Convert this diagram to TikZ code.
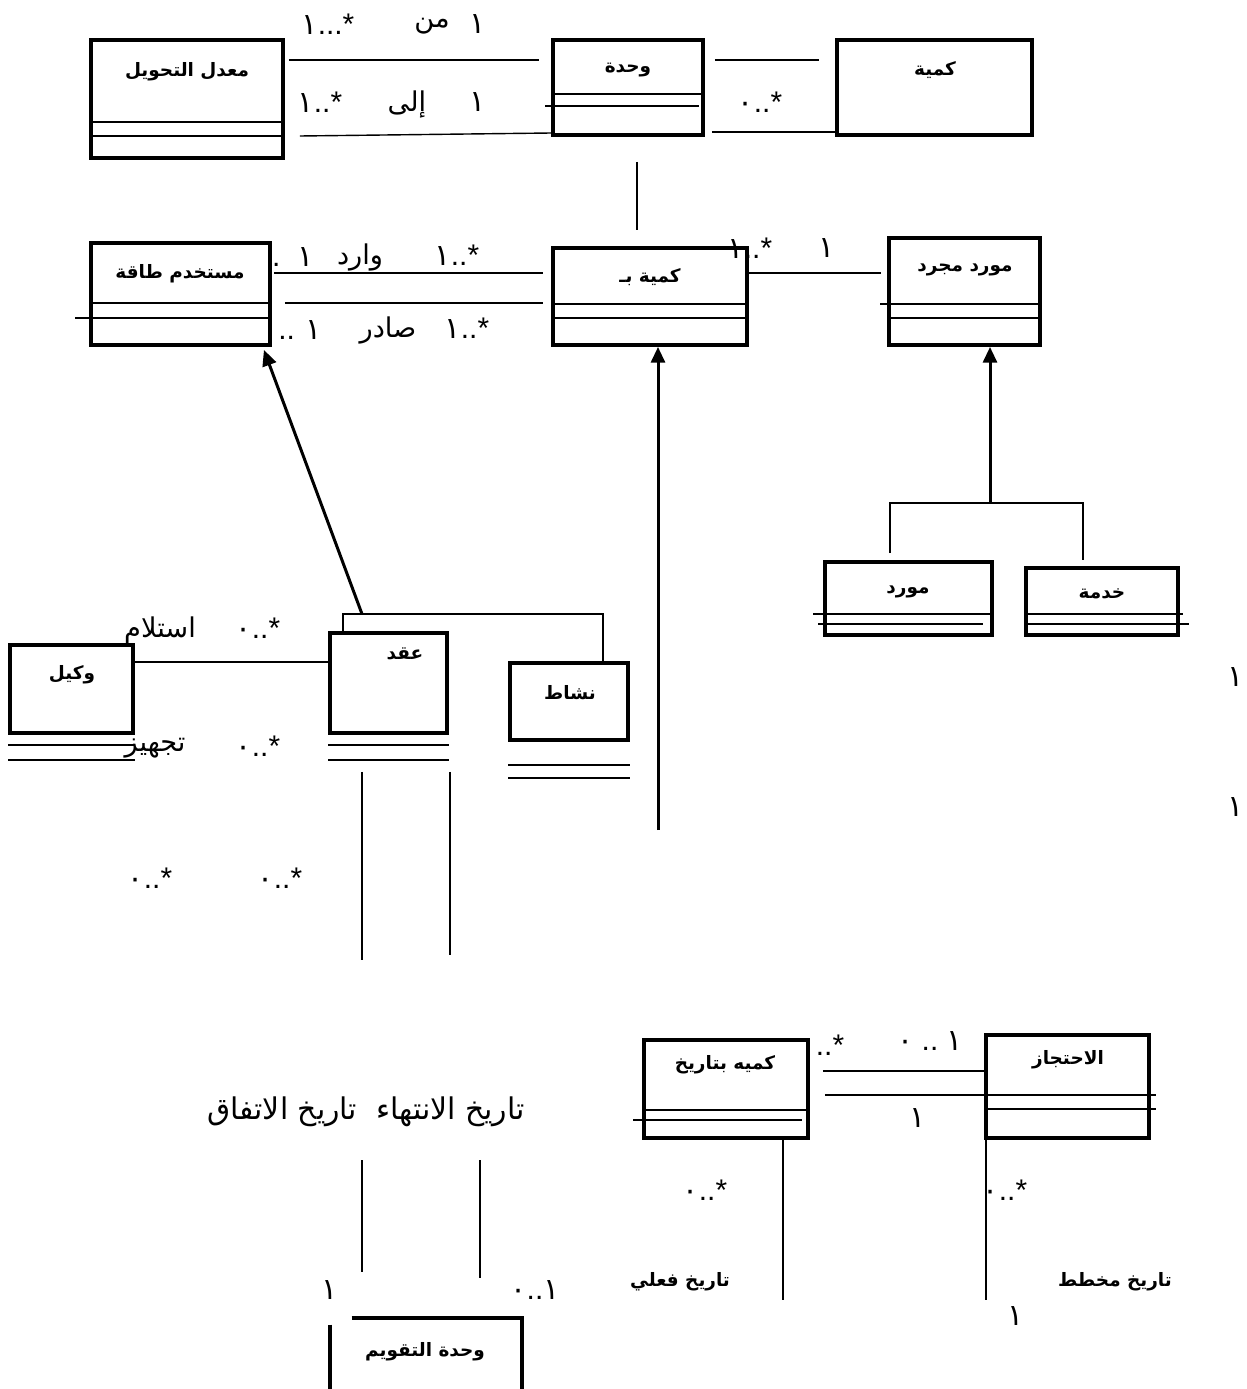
\documentclass[tikz,border=0pt]{standalone}
\usepackage{fontspec}
\setmainfont{Liberation Sans}
\newfontfamily\arabicfont[Script=Arabic]{DejaVu Sans}
\TeXXeTstate=1
\usetikzlibrary{arrows.meta,positioning,calc,fit}
\newcommand\rtl[1]{\beginR #1\endR}
\newcommand\ard[1]{{\arabicfont #1}}

\begin{document}
\begin{tikzpicture}[x=0.02cm, y=-0.02cm,
    cls/.style={draw, line width=2.2pt, inner sep=0pt},
    ctitle/.style={font=\arabicfont\bfseries\fontsize{10.5}{12}\selectfont, inner sep=0pt},
    role/.style={font=\arabicfont\fontsize{15.5}{18}\selectfont, inner sep=0pt},
    mult/.style={font=\fontsize{17}{20}\selectfont, inner sep=0pt},
    comp/.style={line width=0.8pt},
    assoc/.style={line width=0.8pt},
    tree/.style={line width=0.8pt},
    gen/.style={line width=1.7pt, -{Triangle[length=9pt,width=8pt]}}]
\useasboundingbox (0,0) rectangle (1247,1389);

% top row
\node[cls, fit={(91,40) (283,158)}] (rate) {};
\node[ctitle] (rate-t) at (187,72) {\rtl{معدل التحويل}};
\draw[comp] (rate.west |- 0,122) -- (rate.east |- 0,122);
\draw[comp] (rate.west |- 0,136) -- (rate.east |- 0,136);

\node[cls, fit={(553,40) (703,135)}] (unit) {};
\node[ctitle] (unit-t) at (628,70) {وحدة};
\draw[comp] (unit.west |- 0,94) -- (unit.east |- 0,94);
\draw[comp] ($(unit.west |- 0,106)+(-6,0)$) -- ($(unit.east |- 0,106)+(-6,0)$);

\node[cls, fit={(837,40) (1032,135)}] (qty) {};
\node[ctitle] (qty-t) at (935,70) {كمية};

\draw[assoc] (rate.east |- 0,60) ++(4,0) -- ($(unit.west |- 0,60)+(-12,0)$);
\draw[assoc] (rate.east |- 0,136) ++(15,0) -- (unit.west |- 0,133);
\draw[assoc] (unit.east |- 0,60) ++(10,0) -- ($(qty.west |- 0,60)+(-16,0)$);
\draw[assoc] (unit.east |- 0,132) ++(7,0) -- (qty.west |- 0,132);

\node[mult] (m-from) at (328,24) {\ard{١}...*};
\node[role] (r-from) at (432,26) {من};
\node[mult] (m-from1) at (478,24) {\ard{١}};
\node[mult] (m-to) at (320,102) {\ard{١}..*};
\node[role] (r-to) at (407,104) {إلى};
\node[mult] (m-to1) at (478,102) {\ard{١}};
\node[mult] (m-qty) at (760,102) {\ard{٠}..*};

% middle row
\node[cls, fit={(91,243) (270,345)}] (user) {};
\node[ctitle] (user-t) at (180,274) {\rtl{مستخدم طاقة}};
\draw[comp] (user.west |- 0,303) -- (user.east |- 0,303);
\draw[comp] ($(user.west |- 0,318)+(-14,0)$) -- (user.east |- 0,318);

\node[cls, fit={(553,248) (747,345)}] (kb) {};
\node[ctitle] (kb-t) at (650,277) {\rtl{كمية بـ}};
\draw[comp] (kb.west |- 0,304) -- (kb.east |- 0,304);
\draw[comp] (kb.west |- 0,318) -- (kb.east |- 0,318);

\node[cls, fit={(889,238) (1040,345)}] (abs) {};
\node[ctitle] (abs-t) at (965,270) {\rtl{مورد مجرد}};
\draw[comp] ($(abs.west |- 0,304)+(-7,0)$) -- (abs.east |- 0,304);
\draw[comp] (abs.west |- 0,318) -- (abs.east |- 0,318);

\draw[assoc] (unit.south) ++(9,25) -- ($(kb.north)+(-13,-16)$);
\draw[assoc] (user.east |- 0,273) ++(2,0) -- ($(kb.west |- 0,273)+(-8,0)$);
\draw[assoc] (user.east |- 0,303) ++(13,0) -- ($(kb.west |- 0,303)+(-8,0)$);
\draw[assoc] (kb.east |- 0,273) -- ($(abs.west |- 0,273)+(-6,0)$);

\node[mult] (m-in0) at (293,257) {.\hspace{10pt}\ard{١}};
\node[role] (r-in) at (360,257) {وارد};
\node[mult] (m-in) at (457,255) {\ard{١}..*};
\node[mult] (m-out0) at (300,330) {..\hspace{6pt}\ard{١}};
\node[role] (r-out) at (388,330) {صادر};
\node[mult] (m-out) at (467,328) {\ard{١}..*};
\node[mult] (m-src) at (750,248) {\ard{١}..*};
\node[mult] (m-src1) at (827,248) {\ard{١}};

% kinds of source
\node[cls, fit={(825,562) (992,635)}] (sup) {};
\node[ctitle] (sup-t) at (908,592) {مورد};
\draw[comp] ($(sup.west |- 0,614)+(-10,0)$) -- (sup.east |- 0,614);
\draw[comp] ($(sup.west |- 0,624)+(-5,0)$) -- ($(sup.east |- 0,624)+(-11,0)$);

\node[cls, fit={(1026,568) (1178,635)}] (svc) {};
\node[ctitle] (svc-t) at (1102,594) {خدمة};
\draw[comp] ($(svc.west |- 0,614)+(4,0)$) -- ($(svc.east |- 0,614)+(3,0)$);
\draw[comp] (svc.west |- 0,624) -- ($(svc.east |- 0,624)+(9,0)$);

\coordinate (abs-g) at (990,503);
\draw[gen] (abs-g) -- (abs.south -| abs-g);
\draw[tree] ($(sup.north -| 890,0)+(0,-7)$) |- (abs-g) -| ($(svc.north -| 1083,0)+(0,-6)$);

% lower left
\node[cls, fit={(10,645) (133,733)}] (agent) {};
\node[ctitle] (agent-t) at (72,675) {وكيل};
\draw[comp] (agent.west |- 0,745) -- (agent.east |- 0,745);
\draw[comp] (agent.west |- 0,760) -- (agent.east |- 0,760);

\node[cls, fit={(330,633) (447,733)}] (con) {};
\node[ctitle] (con-t) at (405,654) {عقد};
\draw[comp] (con.west |- 0,745) -- (con.east |- 0,745);
\draw[comp] (con.west |- 0,760) -- (con.east |- 0,760);

\node[cls, fit={(510,663) (628,740)}] (act) {};
\node[ctitle] (act-t) at (570,693) {نشاط};
\draw[comp] (act.west |- 0,765) -- (act.east |- 0,765);
\draw[comp] (act.west |- 0,778) -- (act.east |- 0,778);

\coordinate (user-g) at (362,614);
\draw[tree] (con.north -| 343,0) |- (user-g) -| (act.north -| 603,0);
\draw[gen] (user-g) -- ($(user.south east)+(-8,3)$);
\coordinate (kb-g) at (658,830);
\draw[gen] (kb-g) -- (kb.south -| kb-g);

\draw[assoc] (agent.east |- 0,662) -- (con.west |- 0,662);
\node[role] (r-rcv) at (160,630) {استلام};
\node[mult] (m-rcv) at (258,628) {\ard{٠}..*};
\node[role] (r-sup) at (155,748) {تجهيز};
\node[mult] (m-sup) at (258,746) {\ard{٠}..*};

\coordinate (agr1) at (362,960);
\coordinate (end1) at (450,955);
\draw[assoc] (con.south -| agr1) ++(0,37) -- (agr1);
\draw[assoc] (con.south -| end1) ++(0,37) -- (end1);
\node[mult] (m-a) at (150,878) {\ard{٠}..*};
\node[mult] (m-b) at (280,878) {\ard{٠}..*};
\node[role, font=\arabicfont\fontsize{17}{20}\selectfont] (r-dates) at (366,1112) {\rtl{تاريخ الانتهاء\ \ تاريخ الاتفاق}};

% calendar unit
\node[inner sep=0pt, fit={(330,1318) (522,1389)}] (cal) {};
\node[ctitle] (cal-t) at (425,1352) {\rtl{وحدة التقويم}};
\draw[line width=2.2pt] ($(cal.north west)+(22,0)$) -- (cal.north east) -- ($(cal.south east)+(0,20)$);
\draw[line width=2.2pt] ($(cal.north west)+(0,7)$) -- ($(cal.south west)+(0,20)$);
\coordinate (agr2) at (362,1160);
\coordinate (end2) at (480,1160);
\draw[assoc] (agr2) -- ($(cal.north -| agr2)+(0,-46)$);
\draw[assoc] (end2) -- ($(cal.north -| end2)+(0,-40)$);
\node[mult] (m-c1) at (330,1290) {\ard{١}};
\node[mult] (m-c2) at (535,1290) {\ard{٠}..\ard{١}};

% dated quantity and reservation
\node[cls, fit={(644,1040) (808,1138)}] (qd) {};
\node[ctitle] (qd-t) at (725,1065) {\rtl{كميه بتاريخ}};
\draw[comp] (qd.west |- 0,1110) -- (qd.east |- 0,1110);
\draw[comp] ($(qd.west |- 0,1120)+(-9,0)$) -- ($(qd.east |- 0,1120)+(-8,0)$);

\node[cls, fit={(986,1035) (1149,1138)}] (res) {};
\node[ctitle] (res-t) at (1068,1060) {الاحتجاز};
\draw[comp] (res.west |- 0,1095) -- ($(res.east |- 0,1095)+(5,0)$);
\draw[comp] (res.west |- 0,1109) -- ($(res.east |- 0,1109)+(5,0)$);

\draw[assoc] (qd.east |- 0,1071) ++(13,0) -- (res.west |- 0,1071);
\draw[assoc] (qd.east |- 0,1095) ++(15,0) -- (res.west |- 0,1095);
\node[mult] (m-qd) at (830,1045) {..*};
\node[mult] (m-res) at (930,1041) {\ard{٠}\ ..\ \ard{١}};
\node[mult] (m-qd1) at (918,1118) {\ard{١}};

\coordinate (act-v) at (783,1300);
\coordinate (plan-v) at (986,1300);
\draw[assoc] (qd.south -| act-v) -- (act-v);
\draw[assoc] (res.south -| plan-v) -- (plan-v);
\node[mult] (m-act) at (705,1190) {\ard{٠}..*};
\node[mult] (m-plan) at (1005,1190) {\ard{٠}..*};
\node[ctitle] (r-act) at (680,1282) {\rtl{تاريخ فعلي}};
\node[ctitle] (r-plan) at (1115,1282) {\rtl{تاريخ مخطط}};
\node[mult] (m-plan1) at (1016,1316) {\ard{١}};

\node[mult] (m-e1) at (1236,677) {\ard{١}};
\node[mult] (m-e2) at (1236,807) {\ard{١}};
\end{tikzpicture}
\end{document}
